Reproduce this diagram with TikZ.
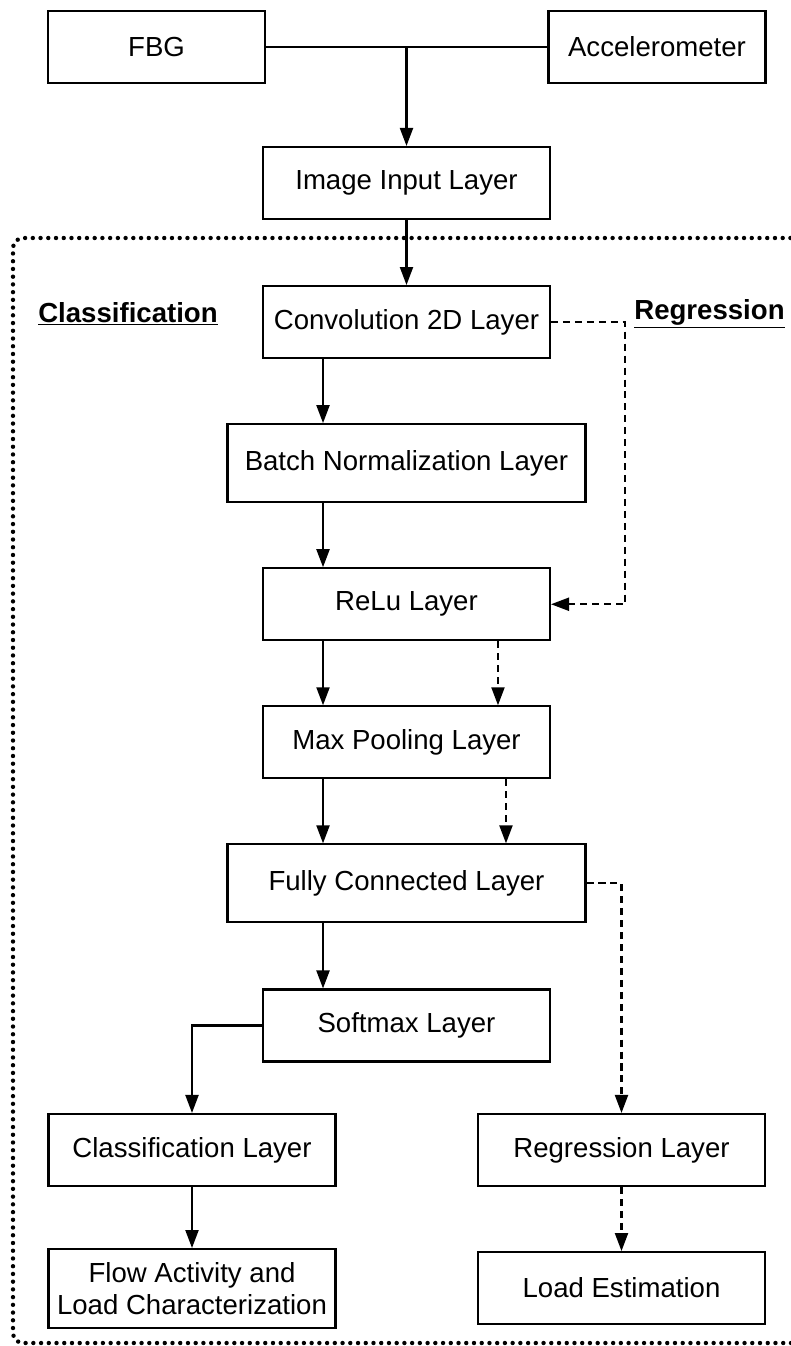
\documentclass[tikz,border=0pt]{standalone}
\usepackage{fontspec}
\setmainfont{Liberation Sans}
\usetikzlibrary{arrows.meta,positioning}

\begin{document}
\begin{tikzpicture}[x=0.02cm,y=-0.02cm,font=\fontsize{15.7}{18.5}\selectfont,line width=1.2pt,
  >={Triangle[length=3.6mm,width=2.6mm]},
  blk/.style={draw,minimum width=5.74cm,minimum height=1.44cm,align=center,inner sep=2pt},
  wide/.style={blk,minimum width=7.16cm,minimum height=1.56cm},
  src/.style={blk,minimum width=4.34cm},
  hd/.style={font=\fontsize{15.7}{18.5}\selectfont\bfseries},
  dsh/.style={dash pattern=on 4pt off 2.8pt}]
\useasboundingbox (0,0) rectangle (791,1346);
\draw[line width=2.5pt,line cap=round,dash pattern=on 0pt off 4.4pt,rounded corners=0.2cm]
  (860,238) -- (13,238) -- (13,1343) -- (860,1343);
\node[src] (fbg) at (156.5,47) {FBG};
\node[src] (acc) at (657,47) {Accelerometer};
\node[blk] (inp) at (406.5,183) {Image Input Layer};
\node[blk,below=1.3cm of inp] (conv) {Convolution 2D Layer};
\node[wide,below=1.28cm of conv] (bn) {Batch Normalization Layer};
\node[blk,below=1.28cm of bn] (relu) {ReLu Layer};
\node[blk,below=1.28cm of relu] (pool) {Max Pooling Layer};
\node[wide,below=1.28cm of pool] (fc) {Fully Connected Layer};
\node[blk,below=1.3cm of fc] (soft) {Softmax Layer};
\node[blk] (cls) at (192,1150) {Classification Layer};
\node[blk] (reg) at (621.5,1150) {Regression Layer};
\node[blk,minimum height=1.58cm,below=1.22cm of cls] (flow) {Flow Activity and\\Load Characterization};
\node[blk,below=1.28cm of reg] (est) {Load Estimation};
\node[hd] (lcls) at (128,314) {\underline{Classification}};
\node[hd] (lreg) at (709.5,314) {\underline{Regression}};
\coordinate (jn) at (inp.north |- fbg.east);
\draw (fbg) -- (acc);
\draw[->] (jn) -- (inp);
\draw[->] (inp) -- (conv);
\foreach \a/\b in {conv/bn,bn/relu,relu/pool,pool/fc,fc/soft}
  \draw[->] ([xshift=-1.67cm]\a.south) -- ([xshift=-1.67cm]\a.south |- \b.north);
\draw[dsh,->] (conv.east) -- ++(1.48cm,0) |- (relu.east);
\draw[dsh,->] ([xshift=1.83cm]relu.south) -- ([xshift=1.83cm]relu.south |- pool.north);
\draw[dsh,->] ([xshift=1.99cm]pool.south) -- ([xshift=1.99cm]pool.south |- fc.north);
\draw[dsh,->] (fc.east) -| (reg.north);
\draw[dsh,->] (reg) -- (est);
\draw[->] (soft.west) -| (cls.north);
\draw[->] (cls) -- (flow);
\end{tikzpicture}
\end{document}
